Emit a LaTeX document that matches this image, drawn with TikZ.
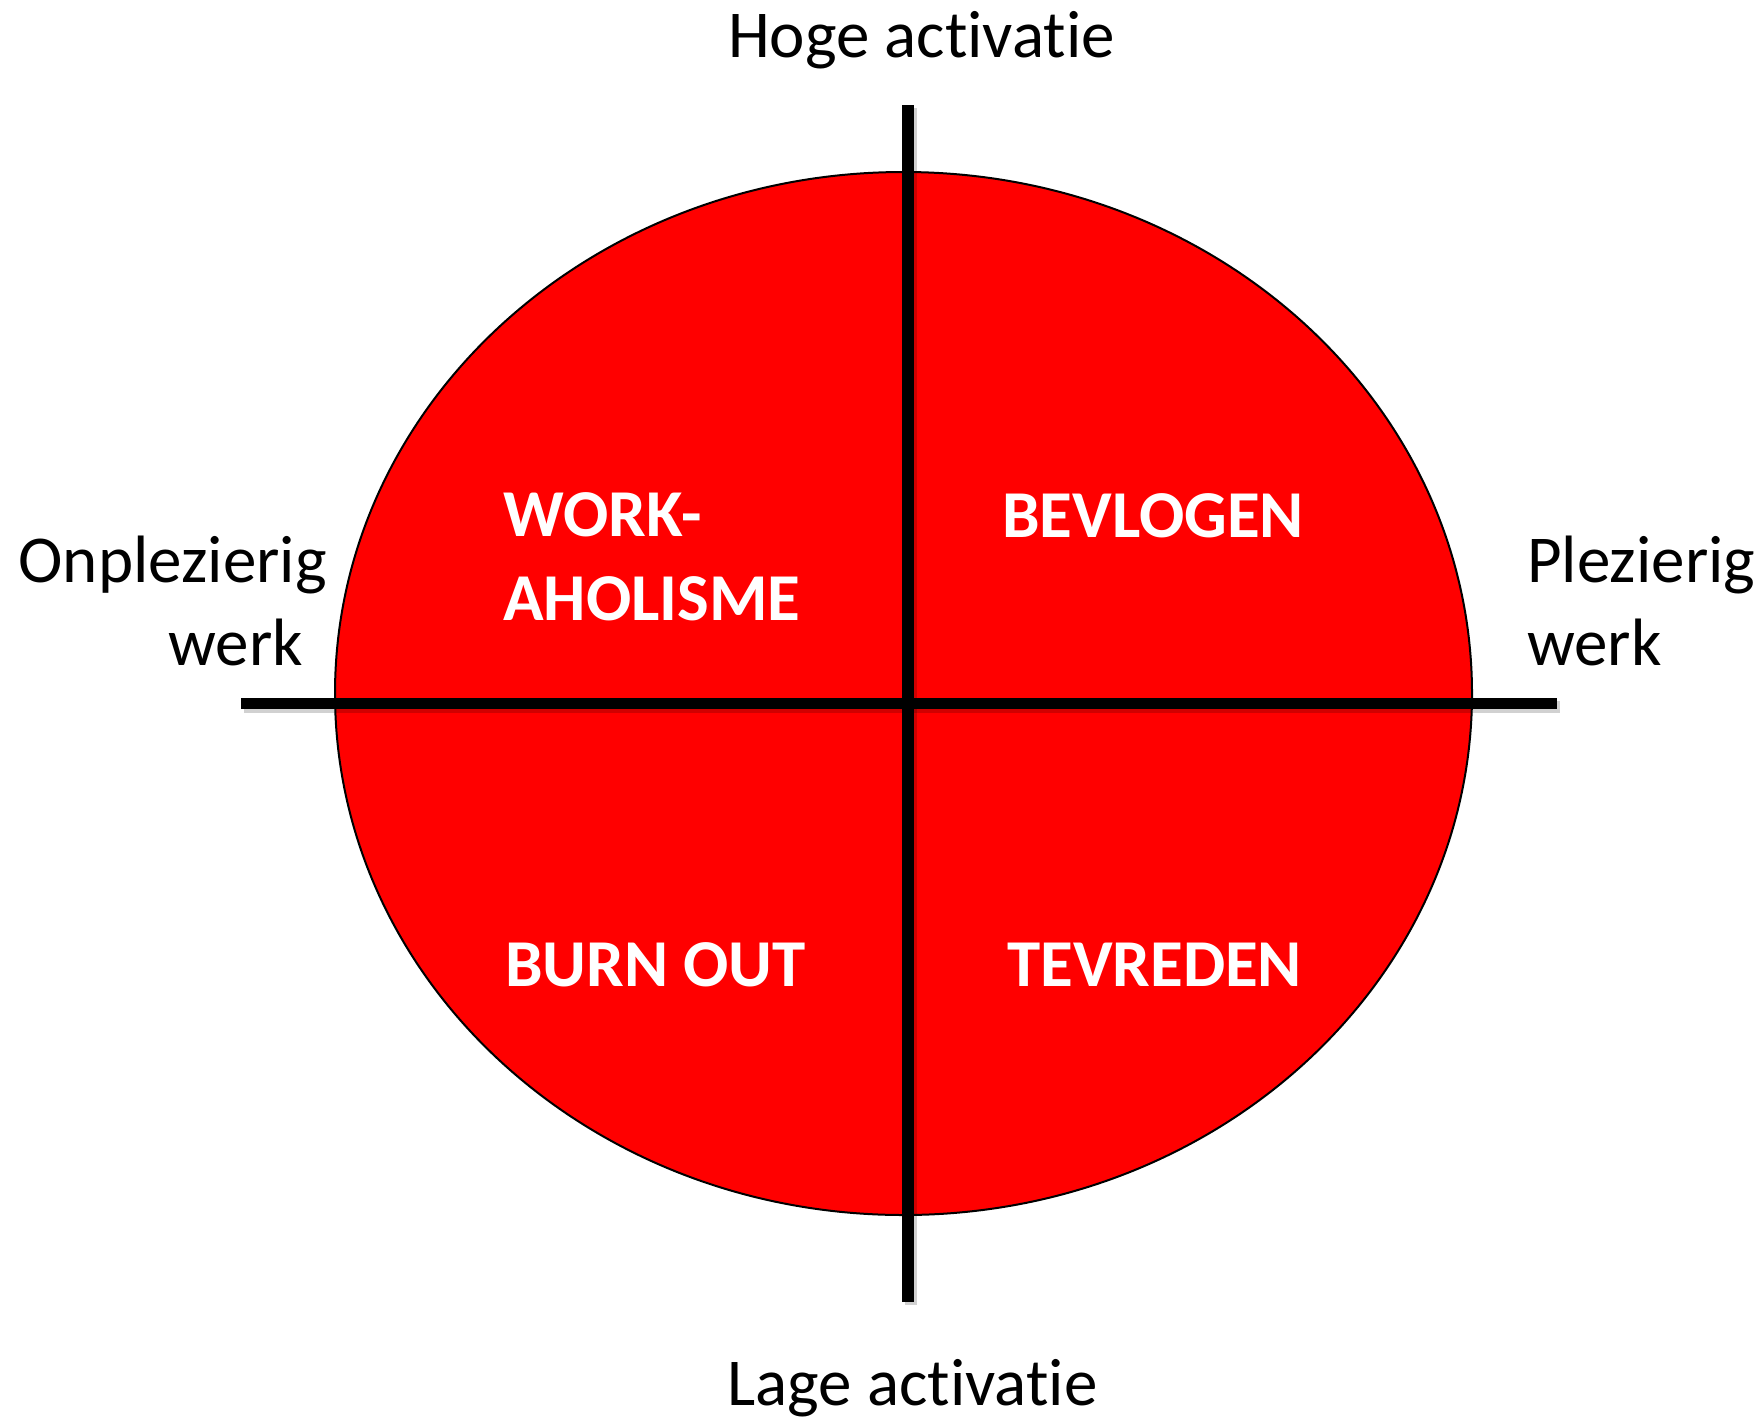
\documentclass[tikz,border=0pt]{standalone}
\usepackage{fontspec}
\setmainfont{Carlito}[Ligatures={NoCommon,NoRare,NoContextual}]
\usetikzlibrary{shapes.geometric}
\definecolor{quadred}{RGB}{255,0,0}
\begin{document}
\begin{tikzpicture}[x=1pt,y=-1pt,
  axis/.style={line width=11.5pt, black},
  axshadow/.style={line width=12pt, black, opacity=0.18},
  outer/.style={font=\fontsize{67}{83}\selectfont, inner sep=0pt, text=black},
  quad/.style={font=\fontsize{67}{84}\selectfont\bfseries, inner sep=0pt, text=white, align=left}]
\useasboundingbox (0,0) rectangle (1763,1419);
\fill[white] (0,0) rectangle (1763,1419);
% ellipse
\node[draw=black, line width=2pt, fill=quadred, ellipse, minimum width=1137pt, minimum height=1043pt, inner sep=0pt] (circ) at (903.5,693.5) {};
% axis end points
\coordinate (vtop) at (908,105);
\coordinate (vbot) at (908,1302);
\coordinate (hl) at (241,703.5);
\coordinate (hr) at (1557,703.5);
\coordinate (vtops) at (911,108);
\coordinate (vbots) at (911,1305);
\coordinate (hls) at (244,707);
\coordinate (hrs) at (1560,707);
\draw[axshadow] (vtops) -- (vbots);
\draw[axshadow] (hls) -- (hrs);
\draw[axis] (vtop) -- (vbot);
\draw[axis] (hl) -- (hr);
% outer labels
\node[outer, anchor=base] (hoge) at (921.5,57) {Hoge activatie};
\node[outer, anchor=base] (lage) at (912.5,1405) {Lage activatie};
\node[outer, anchor=base east, align=right] (onpl) at (327,665) {Onplezierig\\werk\hspace*{24pt}};
\node[outer, anchor=base west, align=left] (plez) at (1527,665) {Plezierig\\werk};
% quadrant labels
\node[quad, anchor=base west] (work) at (503,620) {WORK-\\AHOLISME};
\node[quad, anchor=base west] (bevl) at (1002,537) {BEVLOGEN};
\node[quad, anchor=base west] (burn) at (505,986) {BURN OUT};
\node[quad, anchor=base west] (tevr) at (1007,986) {TEVREDEN};
\end{tikzpicture}
\end{document}
